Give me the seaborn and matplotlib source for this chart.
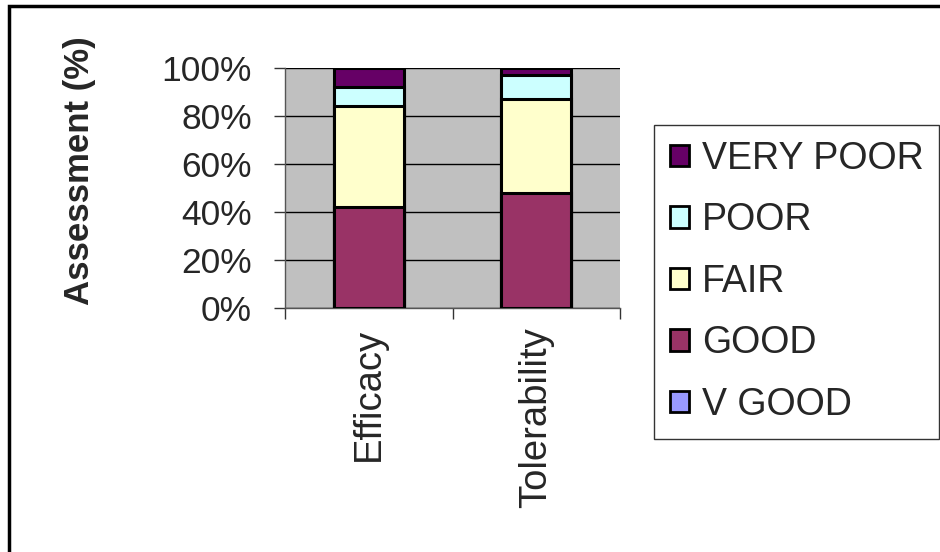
import matplotlib
matplotlib.use("Agg")
import matplotlib.pyplot as plt
from matplotlib.patches import Patch, Rectangle
import seaborn as sns
import pandas as pd
import numpy as np

categories = ["Efficacy", "Tolerability"]
series = ["V GOOD", "GOOD", "FAIR", "POOR", "VERY POOR"]
v_good = [0, 0]
good = [42, 48]
fair = [42, 39]
poor = [8, 10]
very_poor = [8, 3]
colors = {"V GOOD": "#9999FF", "GOOD": "#993366", "FAIR": "#FFFFCC",
          "POOR": "#CCFFFF", "VERY POOR": "#660066"}
yticks = [0, 20, 40, 60, 80, 100]
ytick_labels = ["0%", "20%", "40%", "60%", "80%", "100%"]

sns.set_style("white")
plt.rcParams["font.family"] = ["Liberation Sans", "DejaVu Sans"]

values = np.array([v_good, good, fair, poor, very_poor], dtype=float)
cum = np.cumsum(values, axis=0)

fig = plt.figure(figsize=(9.4, 5.52), dpi=100)
ax = fig.add_axes([285/940, 1-308/552, (620-285)/940, (308-68)/552])
ax.set_facecolor("#C0C0C0")

# draw from top layer down so lower segments cover upper cumulative bars
for i in range(len(series) - 1, -1, -1):
    df = pd.DataFrame({"cat": categories, "val": cum[i]})
    if values[i].sum() == 0:
        continue
    sns.barplot(data=df, x="cat", y="val", color=colors[series[i]],
                saturation=1, width=0.42, edgecolor="black", linewidth=2.2,
                ax=ax, zorder=3)

ax.set_ylim(0, 100)
ax.set_xlim(-0.5, 1.5)
ax.set_yticks(yticks)
ax.set_yticklabels(ytick_labels)
ax.yaxis.grid(True, color="black", linewidth=1, zorder=0)
ax.set_axisbelow(True)
ax.set_xlabel("")
ax.set_ylabel("")
for s in ["top", "right"]:
    ax.spines[s].set_visible(False)
for s in ["left", "bottom"]:
    ax.spines[s].set_color("#555555")
    ax.spines[s].set_linewidth(1)

ax.tick_params(axis="y", direction="out", length=8, width=1, color="#333333",
               pad=16, labelsize=25.5, left=True)
ax.tick_params(axis="x", which="major", length=0, pad=14, labelsize=27.5,
               labelrotation=90)
ax.set_xticks([-0.5, 0.5, 1.5], minor=True)
ax.tick_params(axis="x", which="minor", direction="out", length=8, width=1,
               color="#333333", bottom=True)

fig.text(80/940, 1-171/552, "Assessment (%)", rotation=90, fontsize=25,
         fontweight="bold", ha="center", va="center")

handles = [Patch(facecolor=colors[s], edgecolor="black", linewidth=2)
           for s in series[::-1]]
leg = fig.legend(handles, series[::-1], loc="upper left",
                 bbox_to_anchor=(654/940, 1-125/552), borderaxespad=0,
                 fontsize=27, frameon=True, fancybox=False,
                 handlelength=0.5, handleheight=0.5, handletextpad=0.35,
                 labelspacing=0.68, borderpad=0.42)
leg.get_frame().set_edgecolor("black")
leg.get_frame().set_linewidth(1)

fig.patches.append(Rectangle((9/940, -0.5), 2.0, 1.5 - 6/552,
                             transform=fig.transFigure, fill=False,
                             edgecolor="black", linewidth=2.5))

fig.savefig("out.png", dpi=100, facecolor="white")
